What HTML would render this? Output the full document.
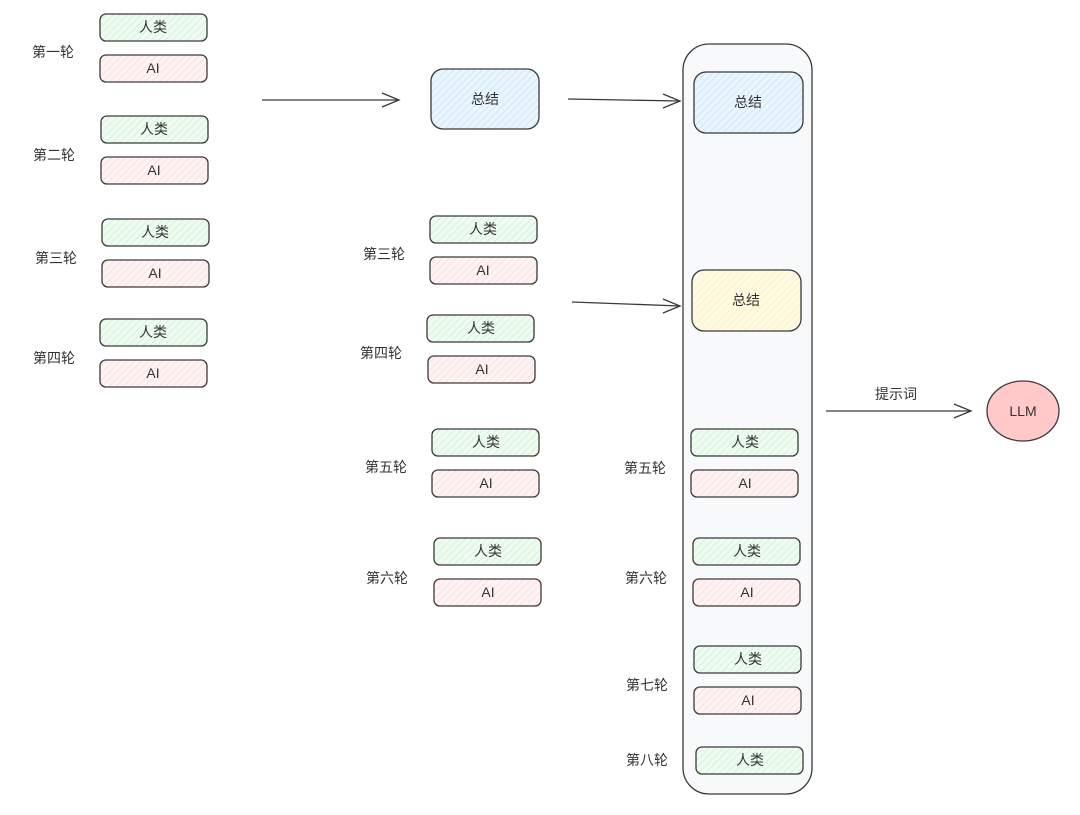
<!DOCTYPE html>
<html><head><meta charset="utf-8"><style>
html,body{margin:0;padding:0;background:#fff;}
svg{display:block;}
text{font-family:"Liberation Sans","Noto Sans CJK SC",sans-serif;font-size:14px;fill:#333;text-anchor:middle;dominant-baseline:central;}
.b{stroke:#3a3a3a;stroke-width:1.3;}
</style></head><body>
<svg width="1080" height="815" viewBox="0 0 1080 815" xmlns="http://www.w3.org/2000/svg">
<defs>
<pattern id="hg" width="5" height="5" patternUnits="userSpaceOnUse" patternTransform="rotate(45)"><rect width="5" height="5" fill="#f0fbf2"/><line x1="0" y1="0" x2="0" y2="5" stroke="#c8f3ce" stroke-width="1.5"/></pattern>
<pattern id="hr" width="5" height="5" patternUnits="userSpaceOnUse" patternTransform="rotate(45)"><rect width="5" height="5" fill="#fff4f4"/><line x1="0" y1="0" x2="0" y2="5" stroke="#ffd6d6" stroke-width="1.5"/></pattern>
<pattern id="hb" width="5" height="5" patternUnits="userSpaceOnUse" patternTransform="rotate(45)"><rect width="5" height="5" fill="#eaf5fe"/><line x1="0" y1="0" x2="0" y2="5" stroke="#c3e3fc" stroke-width="1.5"/></pattern>
<pattern id="hy" width="5" height="5" patternUnits="userSpaceOnUse" patternTransform="rotate(45)"><rect width="5" height="5" fill="#fffae3"/><line x1="0" y1="0" x2="0" y2="5" stroke="#fbefb8" stroke-width="1.5"/></pattern>
</defs>

<rect x="683" y="44" width="129" height="750" rx="26" fill="#f8f9fa" class="b"/>

<text x="53" y="52">第一轮</text>
<rect x="100" y="14" width="107" height="27" rx="6" fill="url(#hg)" class="b"/><text x="153" y="27">人类</text>
<rect x="100" y="55" width="107" height="27" rx="6" fill="url(#hr)" class="b"/><text x="153" y="68">AI</text>
<text x="54" y="155">第二轮</text>
<rect x="101" y="116" width="107" height="27" rx="6" fill="url(#hg)" class="b"/><text x="154" y="129">人类</text>
<rect x="101" y="157" width="107" height="27" rx="6" fill="url(#hr)" class="b"/><text x="154" y="170">AI</text>
<text x="56" y="258">第三轮</text>
<rect x="102" y="219" width="107" height="27" rx="6" fill="url(#hg)" class="b"/><text x="155" y="232">人类</text>
<rect x="102" y="260" width="107" height="27" rx="6" fill="url(#hr)" class="b"/><text x="155" y="273">AI</text>
<text x="54" y="358">第四轮</text>
<rect x="100" y="319" width="107" height="27" rx="6" fill="url(#hg)" class="b"/><text x="153" y="332">人类</text>
<rect x="100" y="360" width="107" height="27" rx="6" fill="url(#hr)" class="b"/><text x="153" y="373">AI</text>

<line x1="262" y1="100" x2="399" y2="100" class="b"/>
<polyline points="382,93 399,100 382,107" fill="none" class="b"/>
<rect x="431" y="69" width="108" height="60" rx="12" fill="url(#hb)" class="b"/><text x="485" y="99">总结</text>
<line x1="568" y1="99" x2="680" y2="101" class="b"/>
<polyline points="663,94 680,101 663,108" fill="none" class="b"/>

<text x="384" y="254">第三轮</text>
<rect x="430" y="216" width="107" height="27" rx="6" fill="url(#hg)" class="b"/><text x="483" y="229">人类</text>
<rect x="430" y="257" width="107" height="27" rx="6" fill="url(#hr)" class="b"/><text x="483" y="270">AI</text>
<text x="381" y="353">第四轮</text>
<rect x="427" y="315" width="107" height="27" rx="6" fill="url(#hg)" class="b"/><text x="481" y="328">人类</text>
<rect x="428" y="356" width="107" height="27" rx="6" fill="url(#hr)" class="b"/><text x="482" y="369">AI</text>
<text x="386" y="467">第五轮</text>
<rect x="432" y="429" width="107" height="27" rx="6" fill="url(#hg)" class="b"/><text x="486" y="442">人类</text>
<rect x="432" y="470" width="107" height="27" rx="6" fill="url(#hr)" class="b"/><text x="486" y="483">AI</text>
<text x="387" y="578">第六轮</text>
<rect x="434" y="538" width="107" height="27" rx="6" fill="url(#hg)" class="b"/><text x="488" y="551">人类</text>
<rect x="434" y="579" width="107" height="27" rx="6" fill="url(#hr)" class="b"/><text x="488" y="592">AI</text>

<line x1="572" y1="302" x2="680" y2="306" class="b"/>
<polyline points="663,299 680,306 663,313" fill="none" class="b"/>

<rect x="694" y="72" width="109" height="61" rx="12" fill="url(#hb)" class="b"/><text x="748" y="102">总结</text>
<rect x="692" y="270" width="109" height="61" rx="12" fill="url(#hy)" class="b"/><text x="746" y="300">总结</text>
<text x="645" y="468">第五轮</text>
<rect x="691" y="429" width="107" height="27" rx="6" fill="url(#hg)" class="b"/><text x="745" y="442">人类</text>
<rect x="691" y="470" width="107" height="27" rx="6" fill="url(#hr)" class="b"/><text x="745" y="483">AI</text>
<text x="646" y="578">第六轮</text>
<rect x="693" y="538" width="107" height="27" rx="6" fill="url(#hg)" class="b"/><text x="747" y="551">人类</text>
<rect x="693" y="579" width="107" height="27" rx="6" fill="url(#hr)" class="b"/><text x="747" y="592">AI</text>
<text x="647" y="685">第七轮</text>
<rect x="694" y="646" width="107" height="27" rx="6" fill="url(#hg)" class="b"/><text x="748" y="659">人类</text>
<rect x="694" y="687" width="107" height="27" rx="6" fill="url(#hr)" class="b"/><text x="748" y="700">AI</text>
<text x="647" y="760">第八轮</text>
<rect x="696" y="747" width="107" height="27" rx="6" fill="url(#hg)" class="b"/><text x="750" y="760">人类</text>

<line x1="826" y1="411" x2="971" y2="411" class="b"/>
<polyline points="954,404 971,411 954,418" fill="none" class="b"/>
<text x="896" y="394">提示词</text>
<ellipse cx="1023" cy="411" rx="36" ry="30" fill="#ffc9c9" class="b"/>
<text x="1023" y="411">LLM</text>
</svg>
</body></html>
